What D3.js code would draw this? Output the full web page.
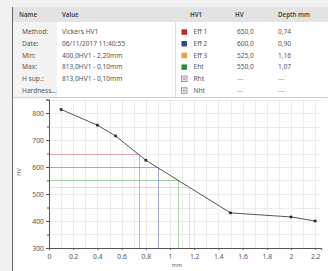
<!DOCTYPE html>
<html>
<head>
<meta charset="utf-8">
<script src="https://cdn.jsdelivr.net/npm/d3@7"></script>
<style>
  html, body { margin: 0; padding: 0; background: #f1f1f1; }
  svg { display: block; font-family: "Noto Sans", "Open Sans", sans-serif; }
</style>
</head>
<body>
<div id="chart"></div>
<script>
// info table
const infoLabels = ["Method:", "Date:", "Min:", "Max:", "H sup.:", "Hardness..."];
const infoValues = ["Vickers HV1", "06/11/2017 11:40:55", "400,0HV1 - 2,20mm", "813,0HV1 - 0,10mm", "813,0HV1 - 0,10mm", ""];

// results table
const resultNames = ["Eff 1", "Eff 2", "Eff 3", "Eht", "Rht", "Nht"];
const resultColors = ["#c8262c", "#2b4b9b", "#e9a23b", "#2f8a3c", null, null];
const resultHV = [650, 600, 525, 550, null, null];
const resultDepth = [0.74, 0.90, 1.16, 1.07, null, null];
const refColors = ["rgba(214,90,90,0.5)", "rgba(90,100,200,0.5)", "rgba(235,200,80,0.55)", "rgba(90,170,90,0.5)"];

// profile
const depths = [0.1, 0.4, 0.55, 0.8, 1.5, 2.0, 2.2];
const hardness = [813, 755, 715, 625, 430, 415, 400];
const xTicks = [0, 0.2, 0.4, 0.6, 0.8, 1, 1.2, 1.4, 1.6, 1.8, 2, 2.2];
const yTicks = [300, 400, 500, 600, 700, 800];

const W = 328, H = 271;
const svg = d3.select("#chart").append("svg").attr("width", W).attr("height", H);

const fmt = v => d3.format(".1f")(v).replace(".", ",");
const fmt2 = v => d3.format(".2f")(v).replace(".", ",");

// panel
svg.append("rect").attr("x", 12).attr("y", 7).attr("width", W - 12).attr("height", H - 7).attr("fill", "#fff");
svg.append("rect").attr("x", 12).attr("y", 7).attr("width", W - 12).attr("height", 15).attr("fill", "#e3e3e3");
svg.append("rect").attr("x", 13).attr("y", 22).attr("width", 44).attr("height", 75).attr("fill", "#f3f3f3");
svg.append("line").attr("x1", 175.5).attr("x2", 175.5).attr("y1", 22).attr("y2", 97).attr("stroke", "#dcdcdc");
svg.append("line").attr("x1", 12).attr("x2", W).attr("y1", 97.5).attr("y2", 97.5).attr("stroke", "#d0d0d0");
svg.append("line").attr("x1", 12.5).attr("x2", 12.5).attr("y1", 7).attr("y2", H).attr("stroke", "#666");

const hdr = svg.append("g").attr("font-size", "6.2px").attr("font-weight", "600").attr("fill", "#444");
[["Name", 19], ["Value", 62], ["HV1", 190], ["HV", 235], ["Depth mm", 278]].forEach(([t, x]) => {
  hdr.append("text").attr("x", x).attr("y", 17).text(t);
});

const rowY = i => 32 + i * 11.7;

const info = svg.append("g").attr("font-size", "6.6px").attr("fill", "#555");
info.selectAll("text.l").data(infoLabels).join("text").attr("class", "l")
  .attr("x", 22).attr("y", (d, i) => rowY(i) + 2.2).text(d => d);
info.selectAll("text.v").data(infoValues).join("text").attr("class", "v")
  .attr("x", 62).attr("y", (d, i) => rowY(i) + 2.2).text(d => d);

const res = svg.append("g").attr("font-size", "6.6px").attr("fill", "#555");
resultNames.forEach((n, i) => {
  const y = rowY(i);
  if (resultColors[i]) {
    res.append("rect").attr("x", 181.5).attr("y", y - 2.7).attr("width", 5.5).attr("height", 5.5).attr("fill", resultColors[i]);
  } else {
    res.append("rect").attr("x", 181.5).attr("y", y - 2.7).attr("width", 5.5).attr("height", 5.5)
      .attr("fill", "#f4eef2").attr("stroke", "#8a7f86").attr("stroke-width", 0.8);
    res.append("rect").attr("x", 183).attr("y", y - 1.2).attr("width", 2.5).attr("height", 2.5).attr("fill", "#b9a8b3");
  }
  res.append("text").attr("x", 193.5).attr("y", y + 2.2).text(n);
  res.append("text").attr("x", 237).attr("y", y + 2.2).attr("fill", resultHV[i] == null ? "#aaa" : "#555")
    .text(resultHV[i] == null ? "—\u02c5" : fmt(resultHV[i]));
  res.append("text").attr("x", 278).attr("y", y + 2.2).attr("fill", resultDepth[i] == null ? "#aaa" : "#555")
    .text(resultDepth[i] == null ? "—\u02c5" : fmt2(resultDepth[i]));
});

// chart
const x = d3.scaleLinear().domain([0, 2.25]).range([49, 49 + 2.25 * 121]);
const y = d3.scaleLinear().domain([300, 850]).range([248, 99.5]);

const grid = svg.append("g").attr("stroke", "#ececec").attr("stroke-width", 1);
grid.selectAll("line.gx").data(d3.range(1, 23).map(d => d / 10)).join("line").attr("class", "gx")
  .attr("x1", d => Math.round(x(d)) + 0.5).attr("x2", d => Math.round(x(d)) + 0.5)
  .attr("y1", y(850)).attr("y2", y(300));
grid.selectAll("line.gy").data(d3.range(350, 851, 50)).join("line").attr("class", "gy")
  .attr("x1", x(0)).attr("x2", x(2.25))
  .attr("y1", d => Math.round(y(d)) + 0.5).attr("y2", d => Math.round(y(d)) + 0.5);

// reference lines
const refs = svg.append("g").attr("stroke-width", 1).attr("fill", "none");
resultHV.forEach((hv, i) => {
  if (hv == null) return;
  const d = resultDepth[i];
  refs.append("path").attr("stroke", refColors[i])
    .attr("d", `M${x(0)},${Math.round(y(hv)) + 0.5}H${Math.round(x(d)) + 0.5}V${y(300)}`);
});

// axes
const yAxis = svg.append("g").attr("transform", `translate(${x(0)},0)`)
  .call(d3.axisLeft(y).tickValues(yTicks).tickSize(3).tickPadding(2).tickFormat(d3.format("d")));
svg.append("g").attr("transform", `translate(${x(0)},0)`)
  .call(d3.axisLeft(y).tickValues(d3.range(350, 851, 50).filter(v => v % 100 !== 0)).tickSize(2).tickFormat(""))
  .call(g => g.select(".domain").remove());
const xAxis = svg.append("g").attr("transform", `translate(0,${y(300)})`)
  .call(d3.axisBottom(x).tickValues(xTicks).tickSize(2).tickPadding(4).tickFormat(d3.format("~g")));
[yAxis, xAxis].forEach(g => {
  g.select(".domain").attr("stroke", "#555");
  g.selectAll(".tick text").attr("fill", "#555").attr("font-size", "6.8px").attr("font-family", "Noto Sans, sans-serif");
});
svg.selectAll(".tick line").attr("stroke", "#555");

svg.append("text").attr("transform", "translate(21,172) rotate(-90)").attr("text-anchor", "middle")
  .attr("font-size", "5.5px").attr("fill", "#555").text("HV");
svg.append("text").attr("x", 177).attr("y", 267).attr("text-anchor", "middle")
  .attr("font-size", "5.5px").attr("fill", "#666").text("mm");

// profile line
const pts = depths.map((d, i) => [d, hardness[i]]);
svg.append("path").datum(pts).attr("fill", "none").attr("stroke", "#555").attr("stroke-width", 1)
  .attr("d", d3.line().x(d => x(d[0])).y(d => y(d[1])));
svg.append("g").selectAll("rect").data(pts).join("rect")
  .attr("x", d => x(d[0]) - 1.3).attr("y", d => y(d[1]) - 1.3)
  .attr("width", 2.6).attr("height", 2.6).attr("fill", "#222");
</script>
</body>
</html>
